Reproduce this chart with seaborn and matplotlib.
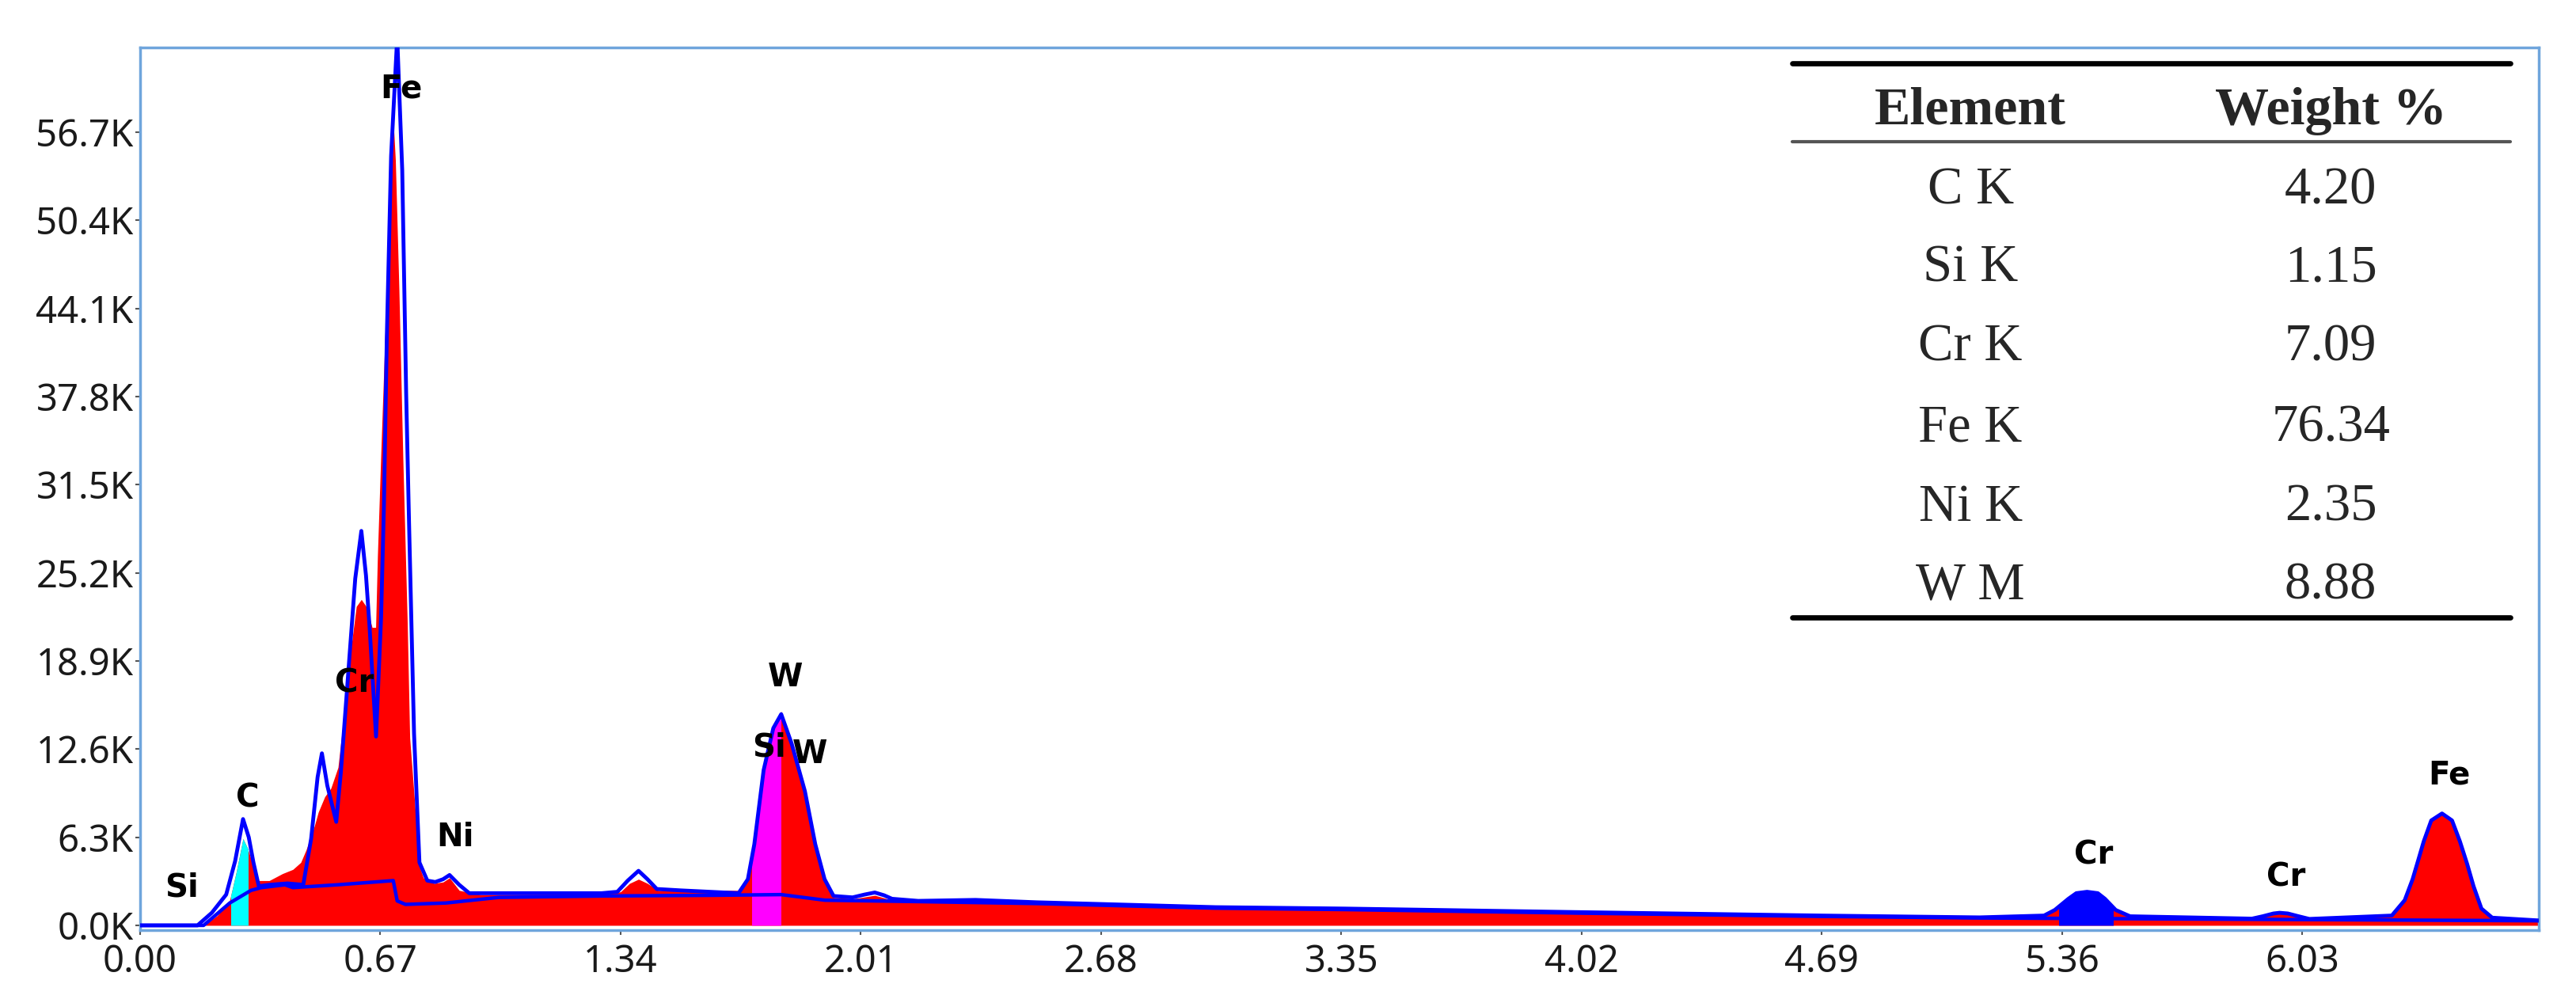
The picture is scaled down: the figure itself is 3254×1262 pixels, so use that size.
import numpy as np
import pandas as pd
import seaborn as sns
import matplotlib.pyplot as plt
from matplotlib.patches import Rectangle
from matplotlib.lines import Line2D
from matplotlib.ticker import FuncFormatter

sns.set_theme(style='white')
plt.rcParams['font.family'] = ['Noto Sans', 'DejaVu Sans']

# measured spectrum (red fill), energy in keV and counts
spec_kev = [0.000, 0.177, 0.215, 0.250, 0.268, 0.287, 0.300, 0.316, 0.327, 0.360,
            0.397, 0.426, 0.448, 0.463, 0.486, 0.497, 0.515, 0.532, 0.552, 0.566,
            0.588, 0.603, 0.617, 0.633, 0.647, 0.657, 0.662, 0.672, 0.687, 0.698,
            0.707, 0.712, 0.722, 0.733, 0.745, 0.752, 0.768, 0.779, 0.790, 0.820,
            0.845, 0.863, 0.890, 0.950, 1.300, 1.340, 1.365, 1.390, 1.415, 1.445,
            1.670, 1.695, 1.713, 1.739, 1.766, 1.788, 1.817, 1.854, 1.883, 1.909,
            1.934, 1.990, 2.049, 2.097, 2.170, 2.330, 2.500, 3.000, 3.360, 4.000,
            4.690, 5.130, 5.310, 5.340, 5.378, 5.400, 5.430, 5.460, 5.480, 5.510,
            5.550, 5.890, 5.920, 5.950, 5.967, 5.990, 6.020, 6.050, 6.280, 6.316,
            6.338, 6.353, 6.369, 6.390, 6.420, 6.448, 6.470, 6.490, 6.508, 6.530,
            6.560, 6.690]
spec_counts = [0, 0, 700, 1800, 3800, 6200, 5500, 4200, 3200, 3200,
               3700, 4000, 4500, 5400, 7100, 8100, 9200, 9800, 11300, 14500,
               19800, 22800, 23300, 22700, 21300, 21300, 26400, 34100, 45100, 53800,
               57100, 54700, 45400, 33300, 21800, 13400, 8000, 4200, 3400, 3000,
               3100, 3400, 2500, 2200, 2250, 2400, 3000, 3300, 3000, 2500,
               2500, 3300, 5800, 11100, 14100, 15300, 13000, 9600, 5800, 3300,
               2000, 1900, 2150, 1800, 1700, 1750, 1580, 1230, 1130, 880,
               640, 520, 650, 1050, 1850, 2250, 2350, 2250, 1850, 1050,
               600, 430, 600, 800, 850, 800, 600, 420, 650, 1750,
               3250, 4550, 5950, 7450, 7950, 7450, 5950, 4350, 2750, 1150,
               500, 320]

# fitted envelope (blue line)
fit_kev = [0.000, 0.160, 0.200, 0.240, 0.265, 0.287, 0.303, 0.316, 0.331, 0.360,
           0.411, 0.455, 0.477, 0.495, 0.507, 0.522, 0.547, 0.560, 0.576, 0.600,
           0.617, 0.630, 0.640, 0.658, 0.672, 0.680, 0.688, 0.700, 0.717, 0.731,
           0.742, 0.750, 0.764, 0.779, 0.801, 0.823, 0.845, 0.863, 0.890, 0.918,
           1.287, 1.331, 1.360, 1.390, 1.415, 1.441, 1.508, 1.669, 1.695, 1.713,
           1.739, 1.766, 1.788, 1.817, 1.854, 1.883, 1.909, 1.934, 1.987, 2.020,
           2.049, 2.075, 2.097, 2.170, 2.330, 2.500, 3.000, 3.360, 4.000, 4.690,
           5.130, 5.310, 5.340, 5.378, 5.400, 5.430, 5.460, 5.480, 5.510, 5.550,
           5.890, 5.920, 5.950, 5.967, 5.990, 6.020, 6.050, 6.280, 6.316, 6.338,
           6.353, 6.369, 6.390, 6.420, 6.448, 6.470, 6.490, 6.508, 6.530, 6.560,
           6.690]
fit_counts = [0, 0, 900, 2200, 4600, 7600, 6300, 4500, 2800, 2900,
              3000, 2900, 6200, 10600, 12300, 10000, 7400, 11000, 16500, 24800,
              28200, 25000, 21300, 13500, 22000, 30000, 42000, 55000, 63500, 54000,
              38000, 28800, 13700, 4500, 3200, 3100, 3300, 3600, 2900, 2300,
              2300, 2400, 3200, 3900, 3300, 2600, 2500, 2300, 3300, 5800,
              11100, 14100, 15100, 13000, 9600, 5800, 3300, 2100, 2000, 2200,
              2350, 2150, 1900, 1750, 1820, 1650, 1300, 1200, 950, 700,
              570, 700, 1100, 1900, 2300, 2400, 2300, 1900, 1100, 650,
              480, 650, 850, 900, 850, 650, 460, 700, 1800, 3300,
              4600, 6000, 7500, 8000, 7500, 6000, 4400, 2800, 1200, 550,
              350]

# background (blue line)
bg_kev = [0.000, 0.177, 0.250, 0.309, 0.338, 0.404, 0.426, 0.550, 0.706, 0.717,
          0.740, 0.853, 1.000, 1.287, 1.600, 1.788, 1.910, 2.170, 2.500, 3.000,
          3.360, 4.000, 4.690, 5.130, 5.900, 6.300, 6.690]
bg_counts = [0, 0, 1600, 2500, 2700, 2900, 2700, 2900, 3200, 1750,
             1500, 1600, 2000, 2100, 2150, 2200, 1800, 1700, 1560, 1230,
             1130, 880, 640, 530, 430, 380, 330]

# highlighted integration windows
window_lo = [0.254, 1.706, 5.353]
window_hi = [0.300, 1.786, 5.503]
window_colors = ['#00ffff', '#ff00ff', '#0000ff']

# peak labels
peak_names = ['Si', 'C', 'Cr', 'Fe', 'Ni', 'W', 'Si', 'W', 'Cr', 'Cr', 'Fe']
peak_kev = [0.116, 0.300, 0.598, 0.728, 0.879, 1.800, 1.755, 1.868, 5.448, 5.985, 6.440]
peak_label_counts = [2700, 9100, 17300, 59800, 6300, 17700, 12700, 12200, 5000, 3450, 10700]

# quantification table
elements = ['C K', 'Si K', 'Cr K', 'Fe K', 'Ni K', 'W M']
weight_pct = [4.20, 1.15, 7.09, 76.34, 2.35, 8.88]

x_ticks = [0.00, 0.67, 1.34, 2.01, 2.68, 3.35, 4.02, 4.69, 5.36, 6.03]
y_ticks = [0, 6300, 12600, 18900, 25200, 31500, 37800, 44100, 50400, 56700]

spec = pd.DataFrame({'kev': spec_kev, 'counts': spec_counts})
fit = pd.DataFrame({'kev': fit_kev, 'counts': fit_counts})
bg = pd.DataFrame({'kev': bg_kev, 'counts': bg_counts})

fig = plt.figure(figsize=(32.55, 12.62), dpi=100)
ax = fig.add_axes([0.05438, 0.06894, 0.93088, 0.88352])

ax.fill_between(spec['kev'], spec['counts'], 0, color='#ff0000', lw=0, zorder=1)
for lo, hi, c in zip(window_lo, window_hi, window_colors):
    poly = ax.fill_between(spec['kev'], spec['counts'], 0, color=c, lw=0, zorder=2)
    clip = Rectangle((lo, -1000), hi - lo, 80000, transform=ax.transData)
    poly.set_clip_path(clip)

sns.lineplot(data=bg, x='kev', y='counts', color='#0000ff', lw=3.2,
             estimator=None, ax=ax, zorder=3)
sns.lineplot(data=fit, x='kev', y='counts', color='#0000ff', lw=3.5,
             estimator=None, ax=ax, zorder=4)

for name, xk, yk in zip(peak_names, peak_kev, peak_label_counts):
    ax.text(xk, yk, name, ha='center', va='center', fontsize=29,
            fontweight='bold', family=['DejaVu Sans'], color='black', zorder=5)

ax.set_xlim(0, 6.69)
ax.set_ylim(-340, 62760)
ax.set_xticks(x_ticks)
ax.set_yticks(y_ticks)
ax.xaxis.set_major_formatter(FuncFormatter(lambda v, p: f'{v:.2f}'))
ax.yaxis.set_major_formatter(FuncFormatter(lambda v, p: f'{v / 1000:.1f}K'))
ax.tick_params(axis='both', which='major', direction='out', length=4, width=1.5,
               color='#555555', labelsize=34, labelcolor='#1a1a1a',
               bottom=True, left=True)
ax.tick_params(axis='x', pad=8)
ax.tick_params(axis='y', pad=2)
ax.set_xlabel('')
ax.set_ylabel('')
for side in ['left', 'right', 'top', 'bottom']:
    ax.spines[side].set_visible(True)
    ax.spines[side].set_color('#6fa5dc')
    ax.spines[side].set_linewidth(2.5)

# table of weight percentages
tx0, tx1 = 0.6956, 0.9742
col_x = [0.7647, 0.9045]
fig.add_artist(Line2D([tx0, tx1], [0.937, 0.937], transform=fig.transFigure,
                      color='black', lw=4.8))
fig.add_artist(Line2D([tx0, tx1], [0.858, 0.858], transform=fig.transFigure,
                      color='#555555', lw=3.0))
fig.add_artist(Line2D([tx0, tx1], [0.382, 0.382], transform=fig.transFigure,
                      color='black', lw=4.8))
serif = ['Liberation Serif', 'DejaVu Serif']
fig.text(col_x[0], 0.889, 'Element', ha='center', va='center', fontsize=49,
         fontweight='bold', family=serif)
fig.text(col_x[1], 0.889, 'Weight %', ha='center', va='center', fontsize=49,
         fontweight='bold', family=serif)
row_y = [0.809, 0.731, 0.652, 0.571, 0.492, 0.414]
for el, w, ry in zip(elements, weight_pct, row_y):
    fig.text(col_x[0], ry, el, ha='center', va='center', fontsize=48, family=serif)
    fig.text(col_x[1], ry, f'{w:.2f}', ha='center', va='center', fontsize=48, family=serif)

fig.savefig('out.png', dpi=100)
